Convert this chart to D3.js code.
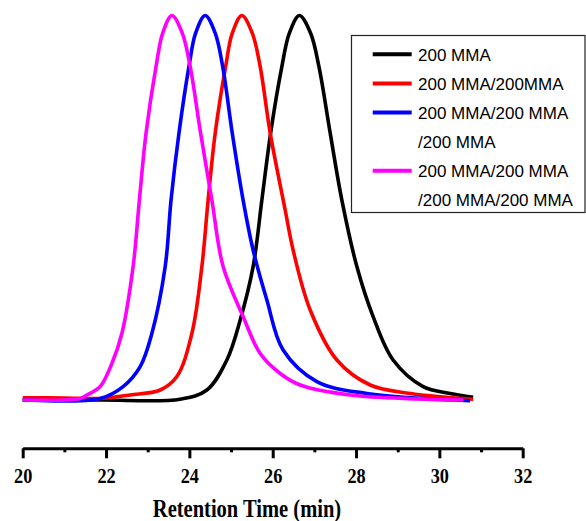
<!DOCTYPE html>
<html>
<head>
<meta charset="utf-8">
<script src="https://cdn.jsdelivr.net/npm/d3@7"></script>
<style>
  body { margin: 0; background: #fff; }
</style>
</head>
<body>
<div id="chart"></div>
<script>
var margin, width, height, x, y, svg, plot, line;

// retention time (min) / normalized detector signal
var time200 = [20.0, 21.86, 23.78, 24.42, 24.90, 25.22, 25.53, 25.74, 25.95, 26.22, 26.40, 26.64, 26.91, 27.11, 27.38, 27.66, 28.02, 28.41, 28.89, 29.61, 30.26, 30.81];
var signal200 = [0, 0, 0.002, 0.026, 0.104, 0.208, 0.347, 0.520, 0.694, 0.867, 0.954, 1.0, 0.954, 0.867, 0.694, 0.520, 0.347, 0.217, 0.104, 0.035, 0.017, 0.007];

var time400 = [20.0, 21.02, 21.86, 22.58, 23.30, 23.70, 24.06, 24.30, 24.45, 24.62, 24.87, 25.03, 25.26, 25.51, 25.70, 25.94, 26.30, 26.49, 26.90, 27.54, 28.34, 29.30, 30.81];
var signal400 = [0.006, 0.005, 0.004, 0.013, 0.026, 0.061, 0.173, 0.347, 0.520, 0.694, 0.867, 0.954, 1.0, 0.954, 0.867, 0.694, 0.494, 0.390, 0.234, 0.104, 0.039, 0.017, 0.002];

var time600 = [20.0, 21.86, 22.41, 22.82, 23.10, 23.42, 23.56, 23.75, 23.99, 24.15, 24.38, 24.62, 24.80, 25.03, 25.29, 25.53, 25.86, 26.25, 27.06, 28.26, 30.74];
var signal600 = [0, 0.004, 0.035, 0.087, 0.173, 0.347, 0.520, 0.694, 0.867, 0.954, 1.0, 0.954, 0.867, 0.694, 0.520, 0.390, 0.260, 0.130, 0.048, 0.017, -0.002];

var time800 = [20.0, 21.38, 21.54, 21.86, 22.14, 22.38, 22.65, 22.80, 22.96, 23.20, 23.36, 23.58, 23.83, 24.02, 24.27, 24.54, 24.81, 25.29, 25.70, 26.18, 26.66, 27.86, 29.46, 30.57];
var signal800 = [0, 0.004, 0.013, 0.035, 0.095, 0.173, 0.347, 0.520, 0.694, 0.867, 0.954, 1.0, 0.954, 0.867, 0.694, 0.520, 0.347, 0.217, 0.121, 0.069, 0.039, 0.013, 0.003, 0];

var seriesColors = ["#000000", "#ff0000", "#0000ff", "#ff00ff"];
var legendLabels = [
  ["200 MMA"],
  ["200 MMA/200MMA"],
  ["200 MMA/200 MMA", "/200 MMA"],
  ["200 MMA/200 MMA", "/200 MMA/200 MMA"]
];
var majorTicks = [20, 22, 24, 26, 28, 30, 32];
var minorTicks = [21, 23, 25, 27, 29, 31];

var series = [
  {time: time200, signal: signal200},
  {time: time400, signal: signal400},
  {time: time600, signal: signal600},
  {time: time800, signal: signal800}
];

margin = {top: 15.5, right: 63.3, bottom: 121, left: 22.7};
width = 586 - margin.left - margin.right;
height = 521 - margin.top - margin.bottom;

x = d3.scaleLinear().domain([20, 32]).range([0, width]);
y = d3.scaleLinear().domain([0, 1]).range([height, 0]);

svg = d3.select('#chart').append('svg')
    .attr('width', 586)
    .attr('height', 521);

plot = svg.append('g').attr('transform', "translate(" + margin.left + "," + margin.top + ")");

line = d3.line()
    .x(function(d) { return x(d[0]); })
    .y(function(d) { return y(d[1]); })
    .curve(d3.curveCatmullRom.alpha(0.5));

series.forEach(function(s, i) {
  plot.append('path')
      .datum(d3.zip(s.time, s.signal))
      .attr('fill', 'none')
      .attr('stroke', seriesColors[i])
      .attr('stroke-width', 3.6)
      .attr('stroke-linejoin', 'round')
      .attr('d', line);
});

// bottom axis, no y axis in the original
var axisY = margin.top + height + 48.3;

var minor = svg.append('g')
    .attr('transform', "translate(" + margin.left + "," + axisY + ")")
    .call(d3.axisBottom(x).tickValues(minorTicks).tickSize(4).tickFormat(''));

var major = svg.append('g')
    .attr('transform', "translate(" + margin.left + "," + axisY + ")")
    .call(d3.axisBottom(x).tickValues(majorTicks).tickSize(10).tickSizeOuter(0).tickFormat(d3.format('d')));

svg.selectAll('.domain, .tick line')
    .attr('stroke', '#000')
    .attr('stroke-width', 3);
minor.select('.domain').remove();

major.selectAll('text')
    .attr('y', 35)
    .attr('dy', null)
    .attr('fill', '#000')
    .attr('transform', 'scale(0.83,1)')
    .style('font-family', '"Liberation Serif", "Times New Roman", serif')
    .style('font-weight', 'bold')
    .style('font-size', '22px');

svg.append('text')
    .attr('transform', 'translate(247,516.5) scale(0.82,1)')
    .attr('text-anchor', 'middle')
    .style('font-family', '"Liberation Serif", "Times New Roman", serif')
    .style('font-weight', 'bold')
    .style('font-size', '25px')
    .text('Retention Time (min)');

// legend
var legend = svg.append('g');
legend.append('rect')
    .attr('x', 351.5)
    .attr('y', 35.5)
    .attr('width', 233.5)
    .attr('height', 177)
    .attr('fill', '#fff')
    .attr('stroke', '#222')
    .attr('stroke-width', 1.2);

var row = 0;
legendLabels.forEach(function(lines, i) {
  var ly = 54.3 + row * 29.1;
  legend.append('line')
      .attr('x1', 372.7)
      .attr('x2', 411.7)
      .attr('y1', ly)
      .attr('y2', ly)
      .attr('stroke', seriesColors[i])
      .attr('stroke-width', 4);
  lines.forEach(function(t, j) {
    legend.append('text')
        .attr('x', 418)
        .attr('y', ly + 6.3 + j * 29.1)
        .style('font-family', '"Liberation Sans", Arial, sans-serif')
        .style('font-size', '17px')
        .text(t);
  });
  row += lines.length;
});
</script>
</body>
</html>
